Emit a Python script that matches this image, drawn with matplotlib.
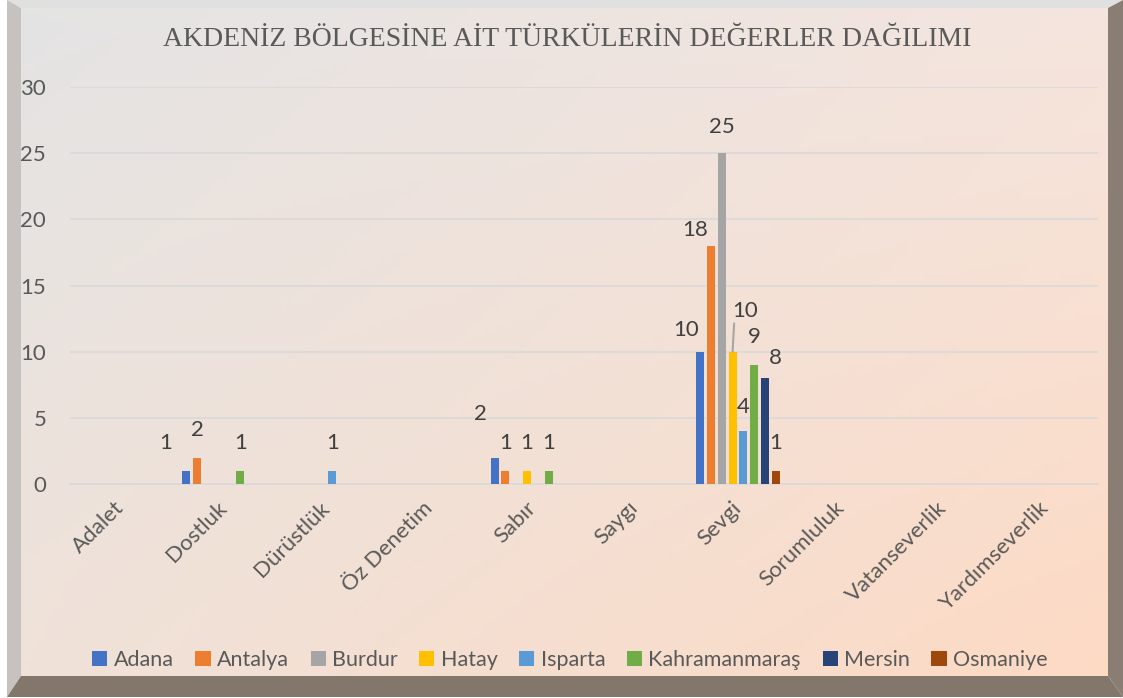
import matplotlib.pyplot as plt
import numpy as np
from matplotlib.patches import Polygon, Rectangle


# -->> Data <<-------------------------

categories = [
    "Adalet", "Dostluk", "Dürüstlük", "Öz Denetim", "Sabır",
    "Saygı", "Sevgi", "Sorumluluk", "Vatanseverlik", "Yardımseverlik",
]
series_names = [
    "Adana", "Antalya", "Burdur", "Hatay",
    "Isparta", "Kahramanmaraş", "Mersin", "Osmaniye",
]
adana = [0, 1, 0, 0, 2, 0, 10, 0, 0, 0]
antalya = [0, 2, 0, 0, 1, 0, 18, 0, 0, 0]
burdur = [0, 0, 0, 0, 0, 0, 25, 0, 0, 0]
hatay = [0, 0, 0, 0, 1, 0, 10, 0, 0, 0]
isparta = [0, 0, 1, 0, 0, 0, 4, 0, 0, 0]
kahramanmaras = [0, 1, 0, 0, 1, 0, 9, 0, 0, 0]
mersin = [0, 0, 0, 0, 0, 0, 8, 0, 0, 0]
osmaniye = [0, 0, 0, 0, 0, 0, 1, 0, 0, 0]

series_values = [adana, antalya, burdur, hatay,
                 isparta, kahramanmaras, mersin, osmaniye]
colors = ["#4472C4", "#ED7D31", "#A5A5A5", "#FFC000",
          "#5B9BD5", "#70AD47", "#264478", "#9E480E"]

# label offsets (pixels) that Excel moved away from the default spot
label_shift = {
    (1, 0): (-21, 28),
    (4, 0): (-14, 44),
    (6, 0): (-14, 22),
    (6, 1): (-16, 16),
    (6, 2): (0, 26),
    (6, 3): (12, 41),
    (6, 4): (0, 24),
    (6, 6): (10, 20),
}
leader_lines = {(6, 3)}

W, H = 1123, 698
TEXT = "#595959"
GRID = "#d9d9d9"
FONT = "Lato"

fig = plt.figure(figsize=(W / 100, H / 100), dpi=100)
fig.patch.set_facecolor("white")

# -->> Background card with bevel <<---

bg = fig.add_axes([0, 0, 1, 1], zorder=0)
bg.set_xlim(0, W)
bg.set_ylim(0, H)
bg.set_axis_off()

tl = np.array([228, 228, 228]) / 255
tr = np.array([245, 229, 222]) / 255
bl = np.array([240, 226, 217]) / 255
br = np.array([253, 218, 196]) / 255
u = np.linspace(0, 1, 200)[None, :, None]
v = np.linspace(0, 1, 120)[:, None, None]
grad = (tl * (1 - u) * (1 - v) + tr * u * (1 - v)
        + bl * (1 - u) * v + br * u * v)
bg.imshow(grad, extent=(21, 1108, H - 676, H - 8), aspect="auto", zorder=1)

faces = [
    ([(7, 0), (1123, 0), (1108, 8), (21, 8)], "#e0e0e0"),
    ([(7, 0), (21, 8), (21, 676), (7, 697)], "#c6c2bf"),
    ([(7, 697), (21, 676), (1108, 676), (1123, 697)], "#83766b"),
    ([(1123, 0), (1108, 8), (1108, 676), (1123, 697)], "#8a7d74"),
]
for pts, col in faces:
    bg.add_patch(Polygon([(x, H - y) for x, y in pts], closed=True,
                         facecolor=col, edgecolor="none", zorder=2))

# -->> Chart <<------------------------

ax = fig.add_axes([69.8 / W, 214 / H, 1028 / W, 397 / H], zorder=1)
ax.set_facecolor("none")

x = np.arange(len(categories))
slot = 10.8 / 102.8
bar_w = 8.0 / 102.8
n = len(series_names)

for i, (name, vals, col) in enumerate(zip(series_names, series_values, colors)):
    xs = x + (i - (n - 1) / 2) * slot
    ax.bar(xs, vals, width=bar_w, color=col, label=name, zorder=3)
    for j, val in enumerate(vals):
        if val == 0:
            continue
        dx, dy = label_shift.get((j, i), (0, 28))
        arrow = None
        if (j, i) in leader_lines:
            arrow = dict(arrowstyle="-", color="#a6a6a6", lw=1.5,
                         shrinkA=0, shrinkB=0, relpos=(0.1, 0.0))
        ax.annotate(str(val), xy=(xs[j], val), xytext=(dx, dy),
                    textcoords="offset pixels", ha="center", va="center",
                    fontsize=16, color="#404040", family=FONT,
                    arrowprops=arrow, zorder=4)

ax.set_xlim(-0.5, len(categories) - 0.5)
ax.set_ylim(0, 30)
ax.set_yticks(range(0, 31, 5))
ax.yaxis.grid(True, color=GRID, lw=1.2)
ax.set_axisbelow(True)
for side in ["top", "right", "left"]:
    ax.spines[side].set_visible(False)
ax.spines["bottom"].set_color(GRID)
ax.spines["bottom"].set_linewidth(1.2)
ax.tick_params(axis="both", length=0, labelsize=16, labelcolor=TEXT)
ax.tick_params(axis="y", pad=17)
ax.tick_params(axis="x", pad=15)
for lab in ax.get_yticklabels():
    lab.set_family(FONT)

ax.set_xticks(x)
ax.set_xticklabels(categories, rotation=45, ha="right", va="center",
                   rotation_mode="anchor", family=FONT)

fig.text(567 / W, 1 - 40 / H, "AKDENİZ BÖLGESİNE AİT TÜRKÜLERİN DEĞERLER DAĞILIMI",
         ha="center", va="center", fontsize=20, color=TEXT,
         family="Liberation Serif")

handles = [Rectangle((0, 0), 1, 1, facecolor=c) for c in colors]
fig.legend(handles, series_names, loc="center",
           bbox_to_anchor=(570 / W, 1 - 660 / H), ncol=n, frameon=False,
           handlelength=0.7, handleheight=0.7, handletextpad=0.3,
           columnspacing=1.0, prop={"family": FONT, "size": 15.5},
           labelcolor=TEXT)

fig.savefig("out.png", dpi=100)
